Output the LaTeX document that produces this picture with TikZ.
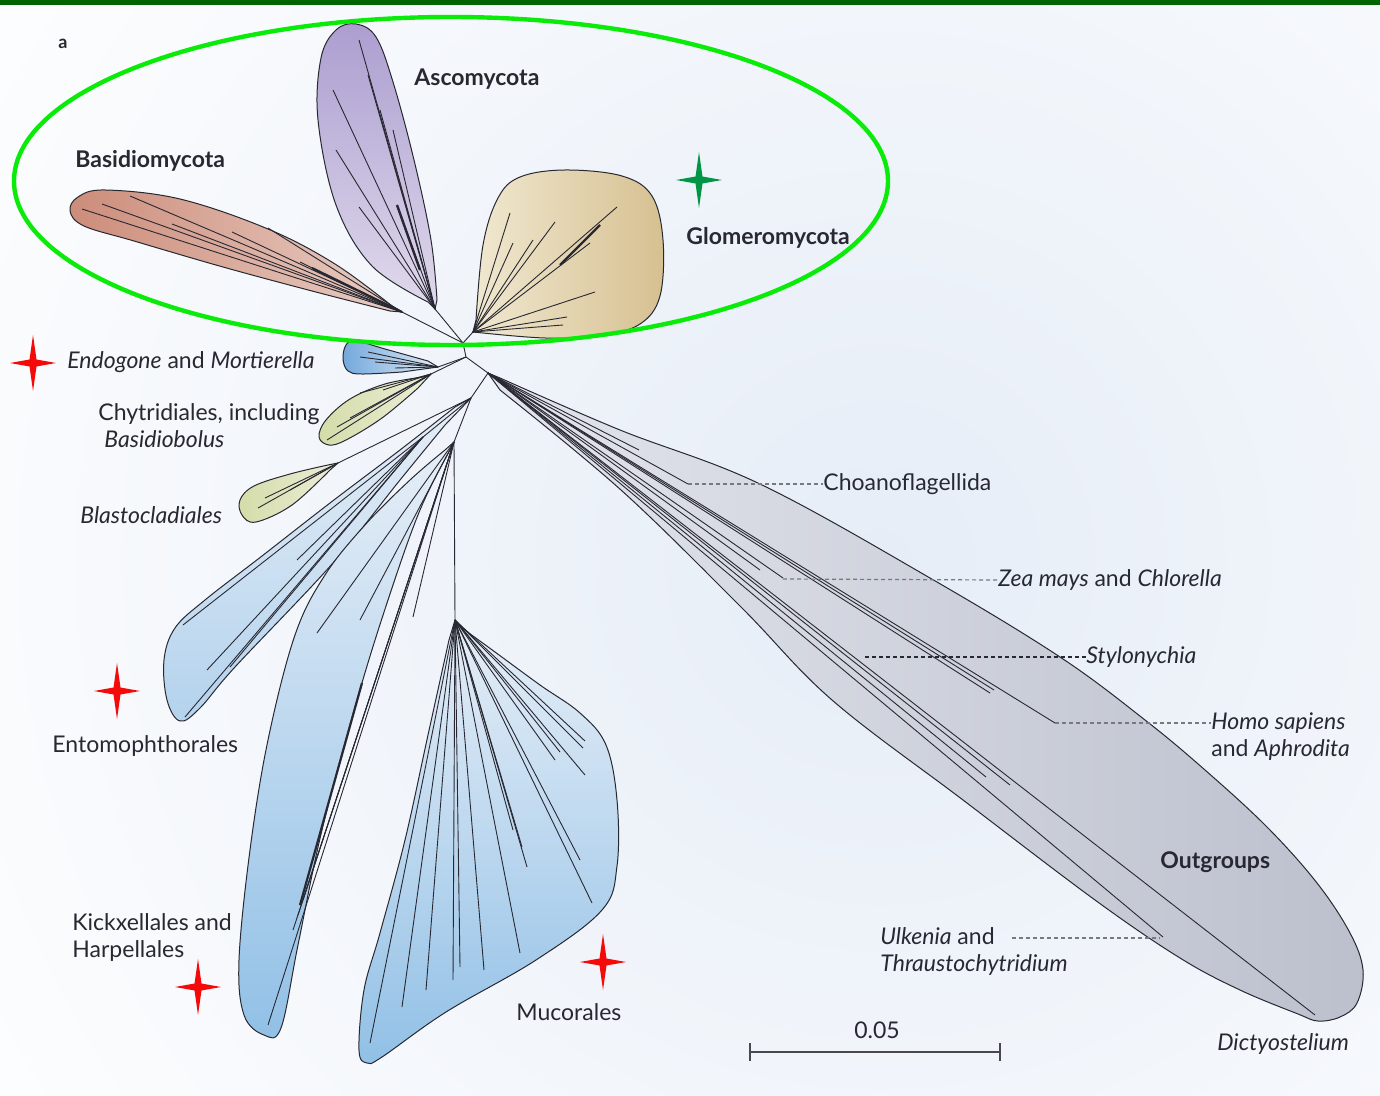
\documentclass[tikz,border=0pt]{standalone}
\usepackage{fontspec}
\setmainfont{Lato}
\definecolor{topbar}{RGB}{0,100,0}
\definecolor{bgblue}{RGB}{230,237,247}
\definecolor{ringgreen}{RGB}{10,235,10}
\definecolor{stargreen}{RGB}{0,150,70}
\definecolor{starred}{RGB}{245,10,10}
\definecolor{inkgrey}{RGB}{40,40,50}
\definecolor{leadgrey}{RGB}{120,120,130}
\definecolor{basA}{RGB}{205,140,122}
\definecolor{basB}{RGB}{232,205,195}
\definecolor{ascA}{RGB}{172,158,208}
\definecolor{ascB}{RGB}{224,218,236}
\definecolor{gloA}{RGB}{240,232,208}
\definecolor{gloB}{RGB}{214,192,145}
\definecolor{endA}{RGB}{115,168,220}
\definecolor{endB}{RGB}{225,235,245}
\definecolor{chyA}{RGB}{212,220,168}
\definecolor{chyB}{RGB}{236,238,215}
\definecolor{bluA}{RGB}{230,238,247}
\definecolor{bluB}{RGB}{145,192,230}
\definecolor{outA}{RGB}{226,229,236}
\definecolor{outB}{RGB}{188,192,205}

\begin{document}
\begin{tikzpicture}[x=0.5pt, y=-0.5pt, line join=round]
	\tikzset{
		clade/.style={draw=inkgrey, line width=0.5pt},
		twig/.style={draw=inkgrey, line width=0.45pt},
		taxon/.style={inner sep=0pt, text=inkgrey, anchor=west, align=left,
				font=\fontsize{11.5}{13.5}\selectfont},
		group/.style={taxon, font=\fontsize{11.5}{13.5}\selectfont\bfseries},
		leader/.style={draw=leadgrey, line width=0.6pt, dash pattern=on 2pt off 1.5pt},
		sparkle/.pic={
				\fill (0,-28) -- (3.5,-3.5) -- (23,0) -- (3.5,3.5) -- (0,28)
				-- (-3.5,3.5) -- (-23,0) -- (-3.5,-3.5) -- cycle;
			},
	}
	\useasboundingbox (0,0) rectangle (1380,1096);
	\fill[white] (0,0) rectangle (1380,1096);
	\begin{scope}
		\clip (0,0) rectangle (1380,1096);
		\shade[inner color=bgblue, outer color=white] (880,560) circle (1150);
	\end{scope}
	\fill[topbar] (0,0) rectangle (1380,5);

	% branching points of the tree
	\coordinate (rA) at (463,343);
	\coordinate (rB) at (466,357);
	\coordinate (rC) at (488,373);
	\coordinate (rE) at (471,398);
	\coordinate (rF) at (423,437);
	\coordinate (rG) at (454,442);
	\coordinate (rH) at (455,620);
	\coordinate (basT) at (402,312);
	\coordinate (ascT) at (435,309);
	\coordinate (gloT) at (473,332);
	\coordinate (endT) at (438,367);
	\coordinate (chyT) at (431,374);
	\coordinate (blaT) at (338,463);

	% clades
	\shadedraw[clade, left color=basA, right color=basB] (basT) -- plot[smooth, tension=0.6] coordinates {(392,306) (335,264) (268,229) (180,199) (105,190) (78,197) (70,211) (84,226) (134,241) (223,267) (312,291) (390,311)} -- cycle;
	\shadedraw[clade, top color=ascA, bottom color=ascB] (ascT) -- plot[smooth, tension=0.6] coordinates {(428,302) (372,266) (336,205) (318,120) (321,58) (336,30) (356,24) (376,37) (393,82) (414,160) (431,240) (437,300)} -- cycle;
	\shadedraw[clade, left color=gloA, right color=gloB] (gloT) -- plot[smooth, tension=0.6] coordinates {(476,320) (483,245) (498,198) (520,177) (565,170) (622,176) (652,196) (663,240) (660,296) (640,324) (600,336) (545,338) (483,333)} -- cycle;
	\shadedraw[clade, left color=endA, right color=endB] (endT) -- plot[smooth, tension=0.6] coordinates {(428,361) (385,349) (356,341) (346,345) (343,359) (348,371) (362,374) (402,372)} -- cycle;
	\shadedraw[clade, left color=chyA, right color=chyB] (chyT) -- plot[smooth, tension=0.6] coordinates {(423,377) (385,384) (350,399) (326,420) (319,437) (329,445) (346,440) (382,418) (418,388)} -- cycle;
	\shadedraw[clade, left color=chyA, right color=chyB] (blaT) -- plot[smooth, tension=0.6] coordinates {(328,465) (290,474) (254,486) (240,500) (242,515) (256,522) (292,505) (330,470)} -- cycle;
	\shadedraw[clade, top color=bluA, bottom color=bluB!60!bluA] (rE) -- plot[smooth, tension=0.6] coordinates {(455,407) (400,450) (330,503) (262,556) (205,600) (175,628) (164,660) (167,700) (180,721) (200,708) (235,667) (333,563) (400,480) (445,425)} -- cycle;
	\shadedraw[clade, top color=bluA, bottom color=bluB] (rG) -- plot[smooth, tension=0.6] coordinates {(445,450) (410,480) (365,525) (325,575) (295,635) (268,740) (250,850) (239,960) (244,1015) (264,1035) (281,1028) (298,945) (322,830) (357,700) (388,600) (420,510) (450,450)} -- cycle;
	\shadedraw[clade, top color=bluA, bottom color=bluB] (rH) -- plot[smooth, tension=0.6] coordinates {(462,628) (495,652) (540,685) (580,713) (606,745) (617,800) (617,866) (602,910) (536,960) (446,1012) (382,1057) (367,1063) (359,1050) (364,990) (380,933) (405,840) (428,735) (449,640)} -- cycle;
	\shadedraw[clade, left color=outA, right color=outB] (rC) -- plot[smooth, tension=0.6] coordinates {(500,378) (620,430) (760,484) (930,578) (1060,657) (1145,720) (1205,770) (1267,827) (1317,883) (1350,933) (1363,970) (1357,1003) (1340,1017) (1318,1021) (1298,1014) (1240,990) (1180,958) (1095,900) (963,800) (832,700) (741,607) (621,490) (500,390)} -- cycle;

	% backbone
	\foreach \a/\b in {rA/rB, rA/basT, rA/ascT, rA/gloT, rB/rC, rB/endT, rB/chyT, rC/rE, rE/rF, rE/rG, rE/blaT, rG/rH}
		\draw[twig] (\a) -- (\b);

	% leaves
	\foreach \x/\y in {82/209, 102/204, 130/196, 172/224, 232/232, 268/228, 300/262}
		\draw[twig] (basT) -- (\x,\y);
	\draw[twig, line width=1.1pt] (basT) -- (312,268);
	\foreach \x/\y in {359/40, 368/75, 333/90, 336/150, 393/130, 397/205, 359/207, 380/110}
		\draw[twig] (ascT) -- (\x,\y);
	\draw[twig, line width=1.2pt] (420,270) -- (397,205);
	\foreach \x/\y in {510/213, 513/243, 533/240, 555/222, 590/243, 617/207, 595/292, 567/317, 563/325}
		\draw[twig] (gloT) -- (\x,\y);
	\draw[twig, line width=1.1pt] (560,265) -- (600,225);
	\foreach \x/\y in {360/357, 368/352, 375/362, 395/368}
		\draw[twig] (endT) -- (\x,\y);
	\foreach \x/\y in {327/440, 337/427, 350/418, 360/393, 383/390}
		\draw[twig] (chyT) -- (\x,\y);
	\foreach \x/\y in {258/508, 265/498, 290/490}
		\draw[twig] (blaT) -- (\x,\y);
	\foreach \x/\y in {183/625, 207/670, 230/667, 185/717, 297/560}
		\draw[twig] (rF) -- (\x,\y);
	\foreach \x/\y in {268/1025, 293/930, 298/915, 303/900, 317/633, 360/620, 413/617}
		\draw[twig] (rG) -- (\x,\y);
	\draw[twig, line width=1.1pt] (362,683) -- (300,905);
	\foreach \x/\y in {370/1043, 402/1007, 426/990, 453/980, 460/967, 484/970, 520/953, 527/867, 522/847, 513/830, 580/860, 592/903, 585/741, 583/748, 560/752, 555/760, 585/775}
		\draw[twig] (rH) -- (\x,\y);
	\foreach \x/\y in {688/484, 639/450, 760/570, 783/578, 994/690, 990/693, 1055/723, 986/777, 1010/785, 1163/937, 1315/1015}
		\draw[twig] (rC) -- (\x,\y);

	% labels
	\node[inner sep=0pt, text=inkgrey, font=\fontsize{9}{10}\selectfont\bfseries] (panel) at (63,44) {a};
	\node[group] (asco) at (414,79) {Ascomycota};
	\node[group] (basi) at (75,161) {Basidiomycota};
	\node[group] (glom) at (686,238) {Glomeromycota};
	\node[taxon] (endo) at (67,362) {\textit{Endogone} and \textit{Mortierella}};
	\node[taxon] (chyt) at (98,426) {Chytridiales, including\\\hspace{3pt}\textit{Basidiobolus}};
	\node[taxon] (blas) at (80,515) {\textit{Blastocladiales}};
	\node[taxon] (ento) at (52,746) {Entomophthorales};
	\node[taxon] (kick) at (72,937) {Kickxellales and\\Harpellales};
	\node[taxon] (muco) at (516,1012) {Mucorales};
	\node[taxon] (choa) at (823,484) {Choanoflagellida};
	\node[taxon] (zeam) at (998,580) {\textit{Zea mays} and \textit{Chlorella}};
	\node[taxon] (styl) at (1086,657) {\textit{Stylonychia}};
	\node[taxon] (homo) at (1211,737) {\textit{Homo sapiens}\\and \textit{Aphrodita}};
	\node[group] (outg) at (1160,862) {Outgroups};
	\node[taxon] (ulke) at (880,951) {\textit{Ulkenia} and\\\textit{Thraustochytridium}};
	\node[taxon] (dict) at (1217,1044) {\textit{Dictyostelium}};
	\node[taxon, anchor=center] (scal) at (877,1030) {0.05};

	% leaders
	\coordinate (choT) at (688,484);
	\coordinate (zeaT) at (783,579);
	\coordinate (styT) at (865,657);
	\coordinate (homT) at (1055,723);
	\coordinate (ulkS) at (1012,938);
	\coordinate (ulkT) at (1160,938);
	\draw[leader] (choT) -- (choa.west);
	\draw[leader] (zeaT) -- (zeam.west);
	\draw[leader, draw=inkgrey] (styT) -- (styl.west);
	\draw[leader] (homT) -- (homo.west |- homT);
	\draw[leader] (ulkS) -- (ulkT);

	% scale bar
	\coordinate (sbL) at (750,1052);
	\coordinate (sbR) at (1000,1052);
	\draw[draw=inkgrey!85, line width=1.4pt] (sbL) -- (sbR);
	\draw[draw=inkgrey!85, line width=1.4pt] ([yshift=-4.5pt]sbL) -- ([yshift=4.5pt]sbL);
	\draw[draw=inkgrey!85, line width=1.4pt] ([yshift=-4.5pt]sbR) -- ([yshift=4.5pt]sbR);

	% highlight ring and stars
	\draw[ringgreen, line width=2.2pt] (451,181) ellipse [x radius=437, y radius=164];
	\pic[color=stargreen] at (699,180) {sparkle};
	\foreach \x/\y in {33/363, 117/691, 198/987, 603/962}
		\pic[color=starred] at (\x,\y) {sparkle};
\end{tikzpicture}
\end{document}
